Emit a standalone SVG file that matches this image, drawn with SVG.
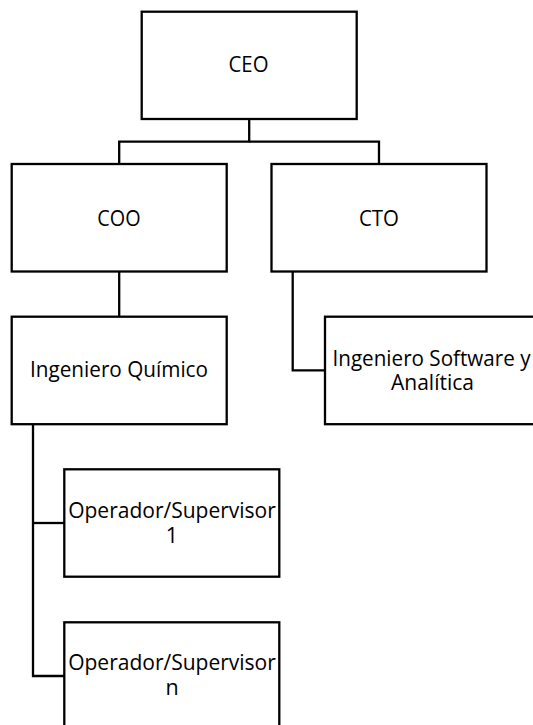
<svg xmlns="http://www.w3.org/2000/svg" width="533" height="725" viewBox="0 0 533 725">
  <style>
    .box { fill: #ffffff; stroke: #000000; stroke-width: 2.3; }
    .link { fill: none; stroke: #000000; stroke-width: 2.3; }
    .lbl { font-family: "Open Sans", "Noto Sans", sans-serif; font-size: 21.5px; fill: #000000; text-anchor: middle; }
  </style>
  <rect width="533" height="725" fill="#ffffff"/>

  <!-- reporting lines -->
  <g id="connectors">
    <path class="link" d="M249.2,119 V141.7 H119.2 V164"/>
    <path class="link" d="M249.2,141.7 H379 V164"/>
    <path class="link" d="M119.2,271.5 V316.7"/>
    <path class="link" d="M292.7,271.5 V370.3 H325"/>
    <path class="link" d="M33,424 V676 H64.3"/>
    <path class="link" d="M33,523 H64.3"/>
  </g>

  <g id="ceo">
    <rect class="box" x="141.7" y="11.7" width="215" height="107.3"/>
    <text class="lbl" x="248.5" y="72.3" textLength="40" lengthAdjust="spacingAndGlyphs">CEO</text>
  </g>

  <g id="coo">
    <rect class="box" x="11.7" y="164" width="215" height="107.5"/>
    <text class="lbl" x="119" y="225.8" textLength="43.3" lengthAdjust="spacingAndGlyphs">COO</text>
  </g>

  <g id="cto">
    <rect class="box" x="271.5" y="164" width="215" height="107.5"/>
    <text class="lbl" x="379" y="225.8" textLength="40" lengthAdjust="spacingAndGlyphs">CTO</text>
  </g>

  <g id="ingeniero-quimico">
    <rect class="box" x="11.7" y="316.7" width="215" height="107.5"/>
    <text class="lbl" x="119" y="376.8" textLength="178" lengthAdjust="spacingAndGlyphs">Ingeniero Químico</text>
  </g>

  <g id="ingeniero-software">
    <rect class="box" x="325" y="316.7" width="215" height="107.5"/>
    <text class="lbl" x="431.5" y="366" textLength="198" lengthAdjust="spacingAndGlyphs">Ingeniero Software y</text>
    <text class="lbl" x="432.5" y="389.5" textLength="83" lengthAdjust="spacingAndGlyphs">Analítica</text>
  </g>

  <g id="operador-1">
    <rect class="box" x="64.3" y="469.3" width="215" height="107.4"/>
    <text class="lbl" x="172" y="517.5" textLength="207.7" lengthAdjust="spacingAndGlyphs">Operador/Supervisor</text>
    <text class="lbl" x="172" y="543">1</text>
  </g>

  <g id="operador-n">
    <rect class="box" x="64.3" y="622.3" width="215" height="107.4"/>
    <text class="lbl" x="172" y="670.3" textLength="207.7" lengthAdjust="spacingAndGlyphs">Operador/Supervisor</text>
    <text class="lbl" x="172" y="695">n</text>
  </g>
</svg>
